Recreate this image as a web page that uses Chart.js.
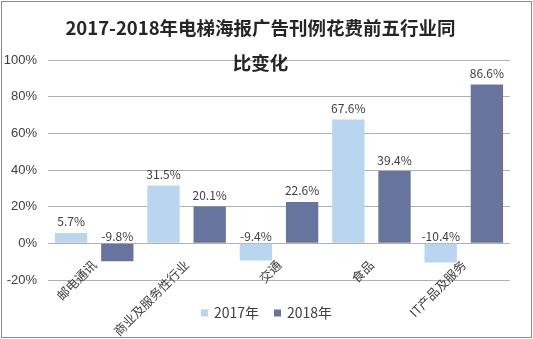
<!DOCTYPE html>
<html>
<head>
<meta charset="utf-8">
<script src="https://cdn.jsdelivr.net/npm/chart.js@4"></script>
<style>
  html, body { margin: 0; padding: 0; background: #fff; }
  #wrap { width: 533px; height: 339px; position: relative; }
</style>
</head>
<body>
<div id="wrap"><canvas id="chart" width="533" height="339"></canvas></div>
<script>
/************/
/*** DATA ***/
/************/

const titleLines = ['2017-2018年电梯海报广告刊例花费前五行业同', '比变化'];
const categories = ['邮电通讯', '商业及服务性行业', '交通', '食品', 'IT产品及服务'];
const seriesNames = ['2017年', '2018年'];
const values2017 = [5.7, 31.5, -9.4, 67.6, -10.4];
const values2018 = [-9.8, 20.1, 22.6, 39.4, 86.6];
const yTicks = {min: -20, max: 100, step: 20};

const cjkFont = '"Noto Sans CJK SC", "Liberation Sans", sans-serif';
const textColor = '#404040';

/***************/
/*** PLUGINS ***/
/***************/

// Thin frame around the whole canvas
const framePlugin = {
    id: 'frame',
    beforeDraw(chart) {
        const ctx = chart.ctx;
        ctx.save();
        ctx.fillStyle = '#fff';
        ctx.fillRect(0, 0, chart.width, chart.height);
        ctx.strokeStyle = '#8c8c8c';
        ctx.lineWidth = 1;
        ctx.strokeRect(1.5, 1.5, chart.width - 3, chart.height - 3);
        ctx.restore();
    }
};

// Two-line bold title, drawn on top of the grid
const titlePlugin = {
    id: 'twoLineTitle',
    afterDraw(chart) {
        const ctx = chart.ctx;
        ctx.save();
        ctx.font = 'bold 18.5px ' + cjkFont;
        ctx.fillStyle = '#262626';
        ctx.textAlign = 'center';
        ctx.textBaseline = 'middle';
        const cx = chart.width / 2 - 6;
        ctx.fillText(titleLines[0], cx, 28);
        ctx.fillText(titleLines[1], cx, 63);
        ctx.restore();
    }
};

// Value labels: above positive bars, just above zero for negative ones
const valueLabels = {
    id: 'valueLabels',
    afterDatasetsDraw(chart) {
        const ctx = chart.ctx;
        const zeroY = chart.scales.y.getPixelForValue(0);
        ctx.save();
        ctx.font = '12px ' + cjkFont;
        ctx.fillStyle = textColor;
        ctx.textAlign = 'center';
        ctx.textBaseline = 'bottom';
        chart.data.datasets.forEach((ds, i) => {
            chart.getDatasetMeta(i).data.forEach((bar, j) => {
                const v = ds.data[j];
                const y = v >= 0 ? bar.y - 5 : zeroY - 1;
                ctx.fillText(v.toFixed(1) + '%', bar.x, y);
            });
        });
        ctx.restore();
    }
};

// Legend row under the plot (square swatch + series name)
const bottomLegend = {
    id: 'bottomLegend',
    afterDraw(chart) {
        const ctx = chart.ctx;
        const box = 7, gapText = 6, gapItem = 15, y = 313;
        ctx.save();
        ctx.font = '14px ' + cjkFont;
        ctx.textBaseline = 'middle';
        ctx.textAlign = 'left';
        const items = chart.data.datasets.map(ds => ({
            label: ds.label, color: ds.backgroundColor,
            w: box + gapText + ctx.measureText(ds.label).width
        }));
        const total = items.reduce((s, it) => s + it.w, 0) + gapItem * (items.length - 1);
        let x = chart.width / 2 - total / 2;
        items.forEach(it => {
            ctx.fillStyle = it.color;
            ctx.fillRect(x, y - box / 2, box, box);
            ctx.fillStyle = textColor;
            ctx.fillText(it.label, x + box + gapText, y);
            x += it.w + gapItem;
        });
        ctx.restore();
    }
};

/************/
/*** INIT ***/
/************/

const ctx = document.getElementById('chart');
const chart = new Chart(ctx, {
    type: 'bar',
    data: {
        labels: categories,
        datasets: [
            {label: seriesNames[0], data: values2017, backgroundColor: '#bad5ef',
             barPercentage: 0.7, categoryPercentage: 1.0},
            {label: seriesNames[1], data: values2018, backgroundColor: '#67749e',
             barPercentage: 0.7, categoryPercentage: 1.0}
        ]
    },
    options: {
        responsive: false,
        animation: false,
        layout: {padding: {top: 60, right: 23, left: 0, bottom: 59}},
        plugins: {
            title: {display: false},
            tooltip: {enabled: false},
            legend: {display: false}
        },
        scales: {
            x: {
                // category axis hangs off the zero line
                position: {y: 0},
                grid: {display: false, drawTicks: false},
                border: {display: false},
                ticks: {
                    minRotation: 45, maxRotation: 45, padding: 14,
                    font: {size: 12.5, family: cjkFont}, color: textColor
                }
            },
            y: {
                min: yTicks.min, max: yTicks.max,
                grid: {color: '#b0b0b0', drawTicks: false},
                border: {display: false},
                ticks: {
                    stepSize: yTicks.step, padding: 11,
                    font: {size: 13, family: '"Liberation Sans", sans-serif'}, color: textColor,
                    callback: (v) => v + '%'
                },
                afterFit(scale) { scale.width = 48; }
            }
        }
    },
    plugins: [framePlugin, valueLabels, bottomLegend, titlePlugin]
});
</script>
</body>
</html>
